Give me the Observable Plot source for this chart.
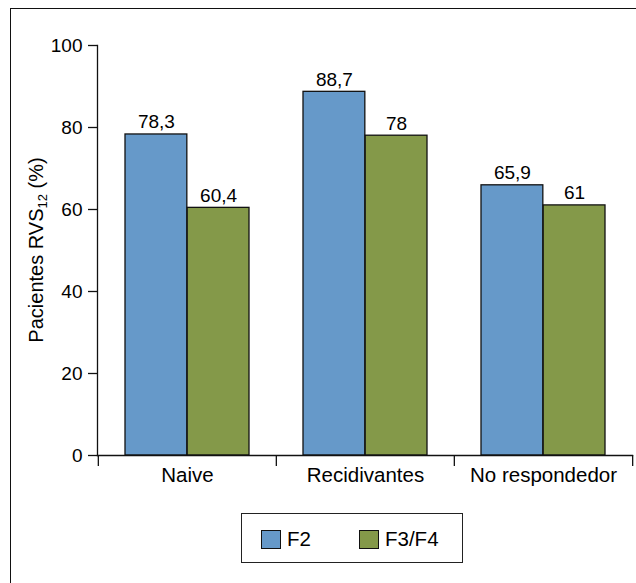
<!DOCTYPE html>
<html><head><meta charset="utf-8">
<script src="https://cdn.jsdelivr.net/npm/d3@7"></script>
<script src="https://cdn.jsdelivr.net/npm/@observablehq/plot@0.6"></script>
<style>
body{margin:0;background:#fff;font-family:"Liberation Sans",Arial,sans-serif;}
#wrap{position:relative;width:636px;height:583px;overflow:hidden;background:#fff;}
#frame{position:absolute;left:10px;top:8px;width:700px;height:700px;border-left:1.5px solid #111;border-top:1.5px solid #111;}
#chart{position:absolute;left:0;top:0;}
#legend{position:absolute;left:241px;top:513px;width:222px;height:50px;border:1.2px solid #222;box-sizing:border-box;}
.sw{position:absolute;top:16px;width:20px;height:19px;border:1.2px solid #111;box-sizing:border-box;}
.lt{position:absolute;top:14px;font-size:20.5px;line-height:21px;color:#000;}
</style>
</head><body>
<div id="wrap"><div id="frame"></div><div id="chart"></div>
<div id="legend"></div></div>
<script>
const categories = ["Naive", "Recidivantes", "No respondedor"];
const series = ["F2", "F3/F4"];
const valuesF2 = [78.3, 88.7, 65.9];
const valuesF3F4 = [60.4, 78, 61];
const yTicks = [0, 20, 40, 60, 80, 100];
const colors = ["#6699c9", "#849949"];

const data = categories.flatMap((c, i) => [
  {cat: c, serie: series[0], value: valuesF2[i]},
  {cat: c, serie: series[1], value: valuesF3F4[i]}
]);

const W = 636, H = 490, mL = 97, mR = 4, mT = 45, mB = 35;
const bw = (W - mL - mR) / categories.length;
const outer = 27;
const barW = bw / 2 - outer;
const fmt = v => String(v).replace(".", ",");
const fam = "Liberation Sans, Arial, sans-serif";

const barOpts = i => ({
  x: "cat", y: "value", fill: "serie",
  stroke: "#111", strokeWidth: 1.3,
  insetLeft: i === 0 ? outer : bw / 2,
  insetRight: i === 0 ? bw / 2 : outer
});
const textOpts = i => ({
  x: "cat", y: "value", text: d => fmt(d.value),
  dx: i === 0 ? -barW / 2 : barW / 2,
  lineAnchor: "bottom", dy: -6, fill: "#000", fontSize: 19, fontFamily: fam
});

const plot = Plot.plot({
  width: W, height: H,
  marginLeft: mL, marginRight: mR, marginTop: mT, marginBottom: mB,
  style: {fontFamily: fam, fontSize: "19px", color: "#000", background: "transparent"},
  x: {type: "band", domain: categories, padding: 0},
  y: {domain: [0, 100]},
  color: {domain: series, range: colors},
  marks: [
    Plot.barY(data.filter(d => d.serie === series[0]), barOpts(0)),
    Plot.barY(data.filter(d => d.serie === series[1]), barOpts(1)),
    Plot.text(data.filter(d => d.serie === series[0]), textOpts(0)),
    Plot.text(data.filter(d => d.serie === series[1]), textOpts(1)),
    Plot.frame({anchor: "left", stroke: "#111", strokeWidth: 1.3}),
    Plot.frame({anchor: "bottom", stroke: "#111", strokeWidth: 1.3}),
    Plot.axisY({ticks: yTicks, tickSize: 9, tickPadding: 6, label: null, stroke: "#111", strokeWidth: 1.3, fill: "#000", fontSize: 19}),
    Plot.axisX({tickSize: 0, tickPadding: 12, label: null, fill: "#000", fontSize: 20.5}),
    Plot.axisX({tickSize: 11, dx: -bw / 2, text: null, label: null, stroke: "#111", strokeWidth: 1.3}),
    Plot.axisX({ticks: [categories[categories.length - 1]], tickSize: 11, dx: bw / 2, text: null, label: null, stroke: "#111", strokeWidth: 1.3})
  ]
});
document.getElementById("chart").appendChild(plot);

// y-axis label with subscript
const svg = d3.select(plot);
const lbl = svg.append("text")
  .attr("transform", `translate(43,${mT + (H - mT - mB) / 2}) rotate(-90)`)
  .attr("text-anchor", "middle")
  .attr("font-size", 20)
  .attr("font-family", fam)
  .attr("fill", "#000");
lbl.append("tspan").text("Pacientes RVS");
lbl.append("tspan").attr("font-size", 13).attr("dy", 4).text("12");
lbl.append("tspan").attr("dy", -4).text(" (%)");

// legend
const legend = d3.select("#legend");
const swX = [19, 117];
series.forEach((s, i) => {
  legend.append("div").attr("class", "sw").style("left", swX[i] + "px").style("background", colors[i]);
  legend.append("div").attr("class", "lt").style("left", (swX[i] + 26) + "px").text(s);
});
</script>
</body></html>
